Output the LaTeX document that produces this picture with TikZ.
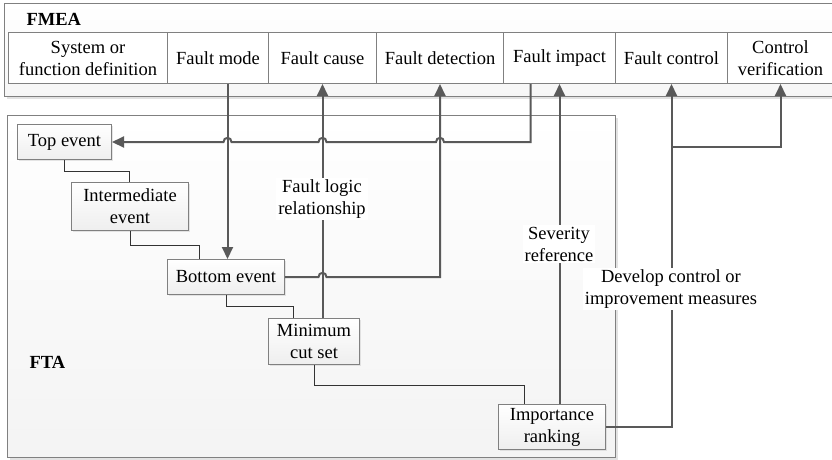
\documentclass[tikz,border=0pt]{standalone}
\usepackage{fontspec}
\setmainfont{Liberation Serif}
\usetikzlibrary{arrows.meta,shadows}
\definecolor{linegray}{HTML}{595959}
\definecolor{boxline}{HTML}{808080}
\tikzset{
  panel/.style={draw=boxline, line width=1pt, top color=white, bottom color=gray!7,
    drop shadow={shadow xshift=2pt, shadow yshift=-2pt, fill=gray!45}, inner sep=0pt},
  cell/.style={draw=boxline, line width=1pt, fill=white, minimum height=51pt,
    inner sep=0pt, align=center, anchor=north west},
  evt/.style={draw=boxline, line width=1pt, top color=white, bottom color=gray!13,
    drop shadow={shadow xshift=1.5pt, shadow yshift=-1.5pt, fill=gray!40},
    inner sep=0pt, align=center, anchor=north west},
  tree/.style={draw=black!80, line width=1pt},
  arr/.style={draw=linegray, line width=2pt, -{Triangle[length=12pt,width=11pt]}},
  lbl/.style={fill=white, inner sep=2pt, align=center},
  ttl/.style={font=\fontsize{18.5}{22}\selectfont\bfseries, anchor=base west}
}
\begin{document}
\begin{tikzpicture}[x=1pt, y=-1pt, font=\fontsize{18.5}{22}\selectfont]
\useasboundingbox (0,0) rectangle (832,459);

% FMEA panel and its row of steps
\node[panel, minimum width=834pt, minimum height=93pt, anchor=north west] (fmea) at (4,3) {};
\node[ttl] (fmeattl) at (23,25) {FMEA};
\node[cell, minimum width=159pt] (csys) at (8,32) {System or\\function definition};
\node[cell, minimum width=101pt] (cmode) at (167,32) {Fault mode};
\node[cell, minimum width=108pt] (ccause) at (268,32) {Fault cause};
\node[cell, minimum width=127pt] (cdetect) at (376,32) {Fault detection};
\node[cell, minimum width=112pt] (cimpact) at (503,32) {Fault impact};
\node[cell, minimum width=112pt] (ccontrol) at (615,32) {Fault control};
\node[cell, minimum width=106pt] (cverify) at (727,32) {Control\\verification};

% FTA panel and its events
\node[panel, bottom color=gray!9, minimum width=608pt, minimum height=342pt, anchor=north west] (fta) at (7,115) {};
\node[ttl] (ftattl) at (26,368) {FTA};
\node[evt, minimum width=94pt, minimum height=35pt] (top) at (17,124) {Top event};
\node[evt, minimum width=117pt, minimum height=48pt] (inter) at (71,182) {Intermediate\\event};
\node[evt, minimum width=117pt, minimum height=35pt] (bottom) at (167,259) {Bottom event};
\node[evt, minimum width=91pt, minimum height=46pt] (mincut) at (268,318) {Minimum\\cut set};
\node[evt, minimum width=107pt, minimum height=45pt] (importance) at (498,404) {Importance\\ranking};

% fault tree steps
\draw[tree] (top.south) -- ++(0,11) -| ([xshift=-0.5pt]inter.north);
\draw[tree] (inter.south) -- ++(0,14) -| ([xshift=32pt]bottom.north west);
\draw[tree] (bottom.south) -- ++(0,11) -| ([xshift=25pt]mincut.north west);
\draw[tree] (mincut.south) -- ++(0,20) -| ([xshift=26pt]importance.north west);

% crossing points for the line jumps
\coordinate (imp) at ([xshift=-29pt]cimpact.south);
\coordinate (ja) at (cdetect.south |- top.east);
\coordinate (jb) at (ccause.south |- top.east);
\coordinate (jc) at ([xshift=1.5pt]bottom.north |- top.east);
\coordinate (jd) at (ccause.south |- bottom.east);

% fault mode down to the bottom event
\draw[arr] ([xshift=1.5pt]bottom.north |- cmode.south) -- ([xshift=1.5pt]bottom.north);
% minimum cut set up to fault cause
\draw[arr] (ccause.south |- mincut.north) -- (ccause.south);
% bottom event up to fault detection
\draw[arr] (bottom.east) -- ([xshift=-4pt]jd)
  .. controls ([xshift=-4pt,yshift=5.5pt]jd) and ([xshift=4pt,yshift=5.5pt]jd) .. ([xshift=4pt]jd)
  -| (cdetect.south);
% fault impact back to the top event
\draw[arr] (imp) -- (imp |- top.east) -- ([xshift=4pt]ja)
  .. controls ([xshift=4pt,yshift=5.5pt]ja) and ([xshift=-4pt,yshift=5.5pt]ja) .. ([xshift=-4pt]ja)
  -- ([xshift=4pt]jb)
  .. controls ([xshift=4pt,yshift=5.5pt]jb) and ([xshift=-4pt,yshift=5.5pt]jb) .. ([xshift=-4pt]jb)
  -- ([xshift=4pt]jc)
  .. controls ([xshift=4pt,yshift=5.5pt]jc) and ([xshift=-4pt,yshift=5.5pt]jc) .. ([xshift=-4pt]jc)
  -- (top.east);
% importance ranking up to fault impact
\draw[arr] (cimpact.south |- importance.north) -- (cimpact.south);
% importance ranking to fault control and control verification
\draw[arr] (importance.east) -| (ccontrol.south);
\coordinate (br) at (ccontrol.south |- 0,147);
\draw[arr] (br) -| (cverify.south);

% connector labels
\node[lbl] (logiclbl) at (322,199) {Fault logic\\relationship};
\node[lbl] (sevlbl) at (559,244) {Severity\\reference};
\node[lbl] (devlbl) at (671,289) {Develop control or\\improvement measures};
\end{tikzpicture}
\end{document}
